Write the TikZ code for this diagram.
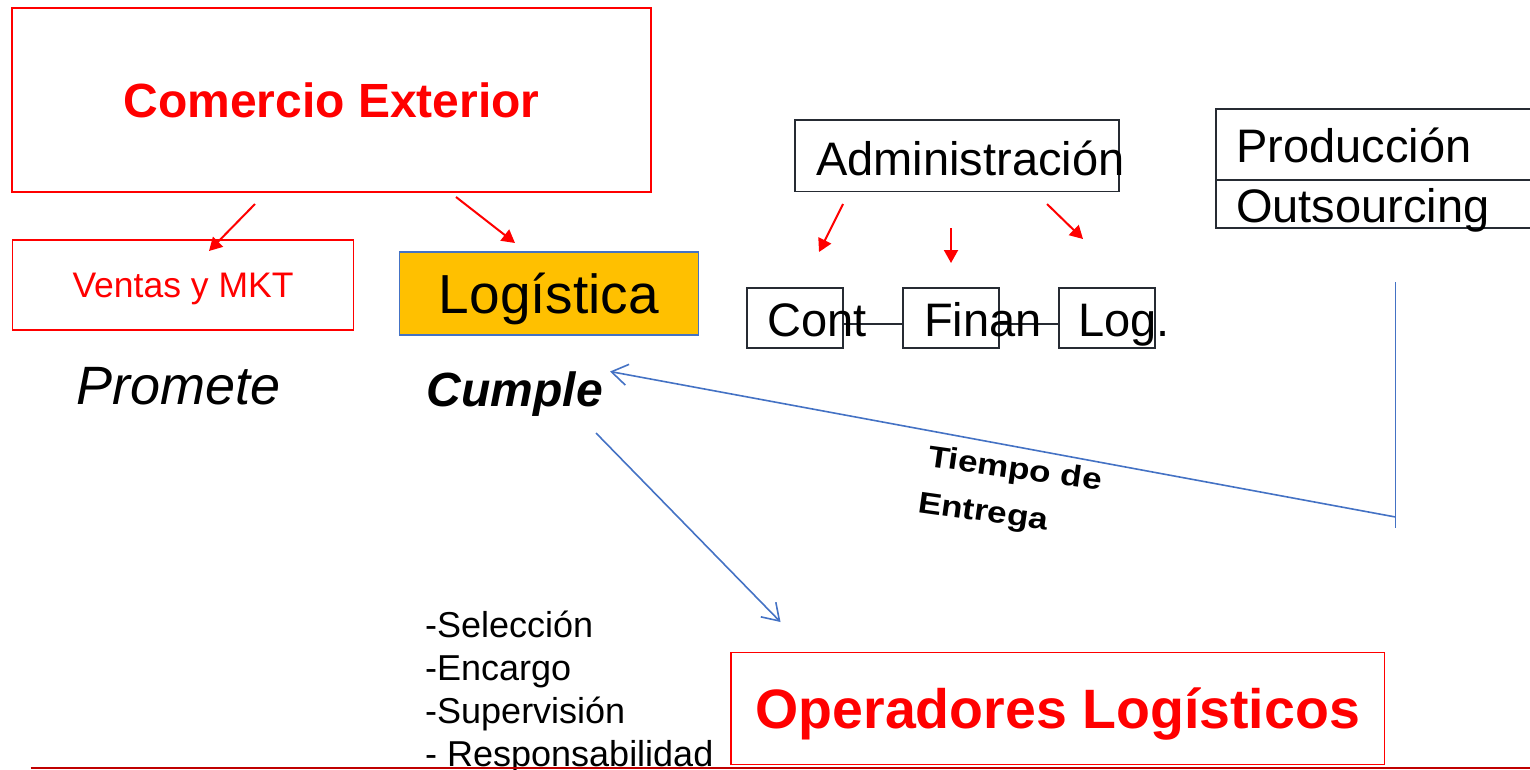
\documentclass[tikz,border=0pt]{standalone}
\usepackage{fontspec}
\setmainfont{Liberation Sans}
\usetikzlibrary{arrows.meta}
\definecolor{ceRed}{HTML}{FF0000}
\definecolor{lineRed}{HTML}{C00000}
\definecolor{ceBlue}{HTML}{4472C4}
\definecolor{ceGold}{HTML}{FFC000}
\definecolor{boxDark}{HTML}{262B33}

\begin{document}
\begin{tikzpicture}[x=1pt, y=-1pt, inner sep=0pt,
    redbox/.style={draw=ceRed, line width=1.5pt},
    darkbox/.style={draw=boxDark, line width=1.5pt},
    redarrow/.style={draw=ceRed, line width=2pt, -{Triangle[length=13pt,width=14pt]}},
    bluearrow/.style={draw=ceBlue, line width=1.6pt, -{Straight Barb[length=16pt,width=21pt]}},
    bigtext/.style={font=\fontsize{47}{56}\selectfont},
    boldtext/.style={font=\bfseries\fontsize{30}{36}\selectfont, rotate=-8, xscale=1.17}]
    \useasboundingbox (0,0) rectangle (1530,769);
    \node[redbox, minimum width=639pt, minimum height=184pt, text=ceRed, font=\bfseries\fontsize{48}{56}\selectfont] (comercio) at (331.5,100) {Comercio Exterior};
    \node[redbox, minimum width=341pt, minimum height=90pt, text=ceRed, text depth=0pt, font=\fontsize{35.5}{42}\selectfont] (ventas) at (183,285) {Ventas y MKT};
    \node[draw=ceBlue, fill=ceGold, line width=1.5pt, minimum width=299pt, minimum height=83pt, text depth=0pt, font=\fontsize{55}{66}\selectfont] (logistica) at (549,293.5) {Logística};
    \node[font=\itshape\fontsize{54}{64}\selectfont, anchor=base] (promete) at (178.5,404) {Promete};
    \node[font=\bfseries\itshape\fontsize{48}{58}\selectfont, anchor=base] (cumple) at (515,406.5) {Cumple};
    \node[darkbox, minimum width=324pt, minimum height=71.5pt] (admin) at (957,155.75) {};
    \node[bigtext, anchor=base west] (admintext) at (816,175) {Administración};
    \node[darkbox, anchor=north west, minimum width=330pt, minimum height=71pt] (prod) at (1215,108) {};
    \node[darkbox, anchor=north west, minimum width=330pt, minimum height=48pt] (outs) at (1215,179) {};
    \node[bigtext, anchor=base west] (prodtext) at (1236,162) {Producción};
    \node[bigtext, anchor=base west] (outstext) at (1236,222) {Outsourcing};
    \node[darkbox, minimum width=96pt, minimum height=60pt] (cont) at (795,318) {};
    \node[darkbox, minimum width=96pt, minimum height=60pt] (finan) at (951,318) {};
    \node[darkbox, minimum width=96pt, minimum height=60pt] (logbox) at (1107,318) {};
    \draw[boxDark, line width=1.5pt] ([yshift=-6pt]cont.east) -- ([yshift=-6pt]finan.west);
    \draw[boxDark, line width=1.5pt] ([yshift=-6pt]finan.east) -- ([yshift=-6pt]logbox.west);
    \node[bigtext, anchor=base west] (conttext) at (767,336) {Cont};
    \node[bigtext, anchor=base west] (finantext) at (924,336) {Finan};
    \node[bigtext, anchor=base west] (logtext) at (1078,336) {Log.};
    \coordinate (ventasfrom) at (255,204);
    \coordinate (ventasto) at (209,251);
    \coordinate (logfrom) at (456,197);
    \coordinate (logto) at (515,243);
    \coordinate (contfrom) at (843,204);
    \coordinate (contto) at (819,252);
    \coordinate (finanfrom) at (951,228);
    \coordinate (finanto) at (951,263);
    \coordinate (logboxfrom) at (1047,204);
    \coordinate (logboxto) at (1083,239);
    \draw[redarrow] (ventasfrom) -- (ventasto);
    \draw[redarrow] (logfrom) -- (logto);
    \draw[redarrow] (contfrom) -- (contto);
    \draw[redarrow] (finanfrom) -- (finanto);
    \draw[redarrow] (logboxfrom) -- (logboxto);
    \coordinate (vtop) at (1395.5,282);
    \coordinate (vbot) at (1395.5,528);
    \coordinate (vjoin) at (1395.5,517);
    \coordinate (cumpletip) at (610,371.5);
    \coordinate (opfrom) at (596,433);
    \coordinate (opto) at (780.5,622);
    \draw[ceBlue, line width=1pt] (vtop) -- (vbot);
    \draw[bluearrow] (vjoin) -- (cumpletip);
    \draw[bluearrow] (opfrom) -- (opto);
    \node[boldtext, anchor=base west] (tiempo) at (927,466) {Tiempo de};
    \node[boldtext, anchor=base west] (entrega) at (917,512) {Entrega};
    \node[font=\fontsize{36}{43}\selectfont, align=left, anchor=north west] (tareas) at (425,611) {-Selección\\-Encargo\\-Supervisión\\- Responsabilidad};
    \node[redbox, minimum width=653.5pt, minimum height=112pt, text=ceRed, text depth=0pt, font=\bfseries\fontsize{55.5}{66}\selectfont] (operadores) at (1057.75,708.5) {Operadores Logísticos};
    \coordinate (baseleft) at (30.5,768);
    \coordinate (baseright) at (1530,768);
    \draw[lineRed, line width=1.5pt] (baseleft) -- (baseright);
\end{tikzpicture}
\end{document}
